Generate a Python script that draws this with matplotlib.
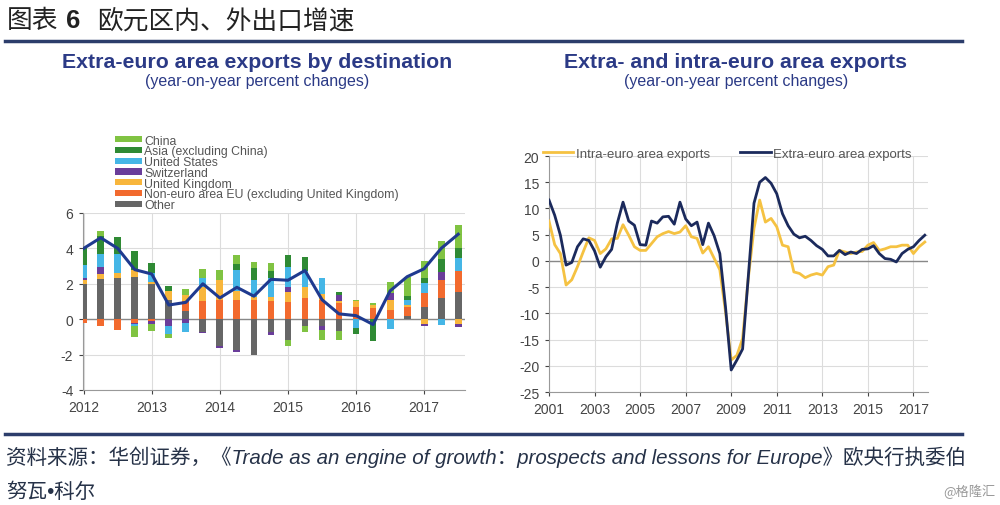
import numpy as np
import matplotlib
matplotlib.use('Agg')
import matplotlib.pyplot as plt

plt.rcParams['font.family'] = ['Liberation Sans', 'Noto Sans CJK SC', 'DejaVu Sans']
plt.rcParams['axes.unicode_minus'] = False

# ---- left chart: extra-euro exports by destination (quarterly, 2012Q1-2017Q3)
bar_years = [2012, 2013, 2014, 2015, 2016, 2017]
other  = [2.0, 2.25, 2.3, 2.4, 2.0, 1.1, 0.45, -0.7, -1.5, -1.75, -2.0, -0.75, -1.2, -0.4, -0.4, -0.65, 0.0, 0.0, 0.0, 0.2, 0.7, 1.2, 1.55]
noneu  = [-0.2, -0.4, -0.6, -0.2, -0.1, 0.0, 0.55, 1.05, 1.1, 1.1, 1.1, 1.0, 0.95, 1.2, 1.1, 0.9, 0.7, 0.65, 0.5, 0.5, 0.8, 1.0, 1.2]
uk     = [0.2, 0.3, 0.3, 0.4, 0.1, 0.5, 0.35, 0.75, 1.1, 0.5, 0.15, 0.25, 0.6, 0.6, 0.3, 0.15, 0.3, 0.15, 0.6, 0.1, -0.3, 0.0, -0.3]
swiss  = [0.15, 0.4, 0.0, -0.1, -0.2, -0.4, -0.2, -0.1, -0.15, -0.1, 0.0, -0.15, 0.25, 0.0, -0.2, 0.3, 0.0, 0.0, 0.4, 0.0, -0.1, 0.45, -0.15]
us     = [0.7, 0.75, 1.1, -0.1, 0.5, -0.45, -0.5, 0.55, 0.0, 1.2, 0.95, 1.05, 1.15, 0.9, 0.9, 0.0, -0.5, 0.0, -0.55, 0.3, 0.55, -0.35, 0.7]
asia   = [1.05, 1.0, 0.95, 1.05, 0.6, 0.25, 0.0, 0.0, 0.0, 0.3, 0.7, 0.45, 0.7, 0.8, 0.0, 0.2, -0.35, -1.25, 0.0, 0.2, 0.3, 0.75, 0.6]
china  = [0.0, 0.3, 0.0, -0.6, -0.35, -0.2, 0.35, 0.5, 0.6, 0.55, 0.35, 0.45, -0.3, -0.3, -0.55, -0.55, 0.1, 0.1, 0.6, 1.1, 0.95, 1.0, 1.25]
total  = [4.0, 4.6, 4.0, 2.8, 2.55, 0.8, 0.95, 2.0, 1.2, 1.8, 1.3, 2.25, 2.2, 2.75, 1.1, 0.3, 0.2, -0.3, 1.6, 2.4, 2.85, 4.0, 4.8]

# ---- right chart: intra vs extra (quarterly, 2001Q1-2017Q3)
line_years = [2001, 2003, 2005, 2007, 2009, 2011, 2013, 2015, 2017]
extra = [11.6, 8.7, 4.9, -0.8, -0.3, 2.7, 4.2, 3.9, 1.9, -1.2, 0.8, 2.2,
         7.2, 11.2, 7.6, 6.8, 3.1, 3.0, 7.6, 7.2, 8.4, 8.5, 7.0, 11.2,
         8.0, 6.7, 7.4, 3.1, 7.2, 4.8, 1.4, -8.8, -20.8, -18.9, -16.8, -3.0,
         11.0, 15.0, 15.9, 14.8, 12.8, 9.0, 6.7, 5.1, 4.4, 4.7, 3.9, 2.9,
         2.2, 0.95, 0.95, 2.0, 1.2, 1.7, 1.4, 2.2, 2.3, 2.9, 1.4, 0.45,
         0.3, -0.2, 1.4, 2.2, 2.7, 3.9, 4.9]
intra = [7.6, 3.1, 1.4, -4.6, -3.6, -1.1, 1.7, 4.4, 3.9, 1.4, 2.3, 4.2,
         4.3, 6.9, 4.9, 2.7, 2.0, 2.0, 3.3, 4.6, 5.2, 5.6, 5.2, 5.5,
         6.7, 4.6, 4.3, 1.5, 2.7, 0.5, -1.7, -9.7, -18.9, -18.0, -14.8, -3.3,
         6.2, 11.6, 7.4, 8.1, 6.5, 3.0, 2.7, -2.1, -2.4, -3.2, -2.7, -2.4,
         -2.7, -1.1, -0.8, 2.0, 1.7, 1.4, 1.7, 1.8, 3.0, 3.5, 2.0, 2.3,
         2.7, 2.7, 3.0, 3.0, 1.4, 2.7, 3.6]

series = [
    ('Other', other, '#666666'),
    ('Non-euro area EU (excluding United Kingdom)', noneu, '#f26a2e'),
    ('United Kingdom', uk, '#f8b63c'),
    ('Switzerland', swiss, '#6a3d9a'),
    ('United States', us, '#45b6e6'),
    ('Asia (excluding China)', asia, '#2f8a34'),
    ('China', china, '#80c342'),
]

title_col = '#2b3a86'
tick_col = '#444444'
grid_col = '#dcdcdc'
cjk = ['Noto Sans CJK SC']

fig = plt.figure(figsize=(10, 5.06), dpi=100)

# header and footer
fig.text(0.007, 0.958, '图表', fontsize=18.5, family=cjk, va='center', color='#222222')
fig.text(0.066, 0.958, '6', fontsize=18.5, fontweight='bold', va='center', color='#222222')
fig.text(0.097, 0.958, '欧元区内、外出口增速', fontsize=18.5, family=cjk, va='center', color='#222222')
fig.add_artist(plt.Line2D([0.005, 0.962], [0.917, 0.917], color='#2c3d6b', lw=2.5))
fig.add_artist(plt.Line2D([0.005, 0.962], [0.14, 0.14], color='#2c3d6b', lw=2.5))
src_fam = ['Liberation Sans', 'Noto Sans CJK SC']
fig.text(0.006, 0.097, '资料来源：华创证券，《Trade as an engine of growth：prospects and lessons for Europe》欧央行执委伯',
         fontsize=14.8, style='italic', family=src_fam, va='center', color='#263248')
fig.text(0.006, 0.028, '努瓦•科尔', fontsize=14.8, style='italic', family=src_fam, va='center', color='#263248')
fig.text(0.995, 0.028, '@格隆汇', fontsize=9.5, family=cjk, ha='right', va='center', color='#999999')

fig.text(0.257, 0.877, 'Extra-euro area exports by destination', fontsize=15.3, fontweight='bold', ha='center', va='center', color=title_col)
fig.text(0.257, 0.838, '(year-on-year percent changes)', fontsize=11.5, ha='center', va='center', color=title_col)
fig.text(0.736, 0.877, 'Extra- and intra-euro area exports', fontsize=15.3, fontweight='bold', ha='center', va='center', color=title_col)
fig.text(0.736, 0.838, '(year-on-year percent changes)', fontsize=11.5, ha='center', va='center', color=title_col)

# ---- left axes
ax1 = fig.add_axes([0.083, 0.2273, 0.382, 0.3498])
n = len(total)
xq = bar_years[0] + np.arange(n) / 4.0
pos_bottom = np.zeros(n)
neg_bottom = np.zeros(n)
handles = []
for name, vals, col in series:
    v = np.array(vals)
    b = np.where(v >= 0, pos_bottom, neg_bottom)
    h = ax1.bar(xq, v, width=0.1, bottom=b, color=col, label=name, zorder=3)
    handles.append(h)
    pos_bottom += np.where(v >= 0, v, 0)
    neg_bottom += np.where(v < 0, v, 0)
ax1.plot(xq, total, color='#1f3a8f', lw=2.2, zorder=4)
ax1.axhline(0, color='#888888', lw=1, zorder=2)
ax1.set_xlim(2011.99, 2017.6)
ax1.set_ylim(-4, 6)
ax1.set_yticks([-4, -2, 0, 2, 4, 6])
ax1.set_xticks(bar_years)
ax1.grid(True, color=grid_col, lw=0.8, zorder=0)
for s in ['top', 'right']:
    ax1.spines[s].set_visible(False)
for s in ['left', 'bottom']:
    ax1.spines[s].set_color('#999999')
ax1.tick_params(colors=tick_col, labelsize=10, length=3, pad=4)

leg = ax1.legend(handles[::-1], [s[0] for s in series][::-1], loc='lower left',
                 bbox_to_anchor=(0.084, 1.01), frameon=False, fontsize=8.8,
                 handlelength=2.2, handleheight=0.4, labelspacing=-0.1,
                 handletextpad=0.2, borderpad=0, borderaxespad=0)
for t in leg.get_texts():
    t.set_color('#555555')

# ---- right axes
ax2 = fig.add_axes([0.549, 0.2233, 0.379, 0.4664])
xl = line_years[0] + np.arange(len(extra)) / 4.0
ax2.plot(xl, intra, color='#f5c242', lw=2.0, label='Intra-euro area exports', zorder=3)
ax2.plot(xl, extra, color='#1b2a5c', lw=2.0, label='Extra-euro area exports', zorder=4)
ax2.axhline(0, color='#888888', lw=1, zorder=2)
ax2.set_xlim(2001, 2017.64)
ax2.set_ylim(-25, 20)
ax2.set_yticks(np.arange(-25, 21, 5))
ax2.set_xticks(line_years)
ax2.grid(True, color=grid_col, lw=0.8, zorder=0)
for s in ['top', 'right']:
    ax2.spines[s].set_visible(False)
for s in ['left', 'bottom']:
    ax2.spines[s].set_color('#999999')
ax2.tick_params(colors=tick_col, labelsize=10, length=3, pad=4)
leg2 = ax2.legend(loc='lower left', bbox_to_anchor=(-0.016, 0.985), ncol=2, frameon=False,
                  fontsize=9.5, handlelength=2.3, handletextpad=0.2, columnspacing=2.3,
                  borderpad=0, borderaxespad=0)
for t in leg2.get_texts():
    t.set_color('#555555')

fig.savefig('out.png', dpi=100)
